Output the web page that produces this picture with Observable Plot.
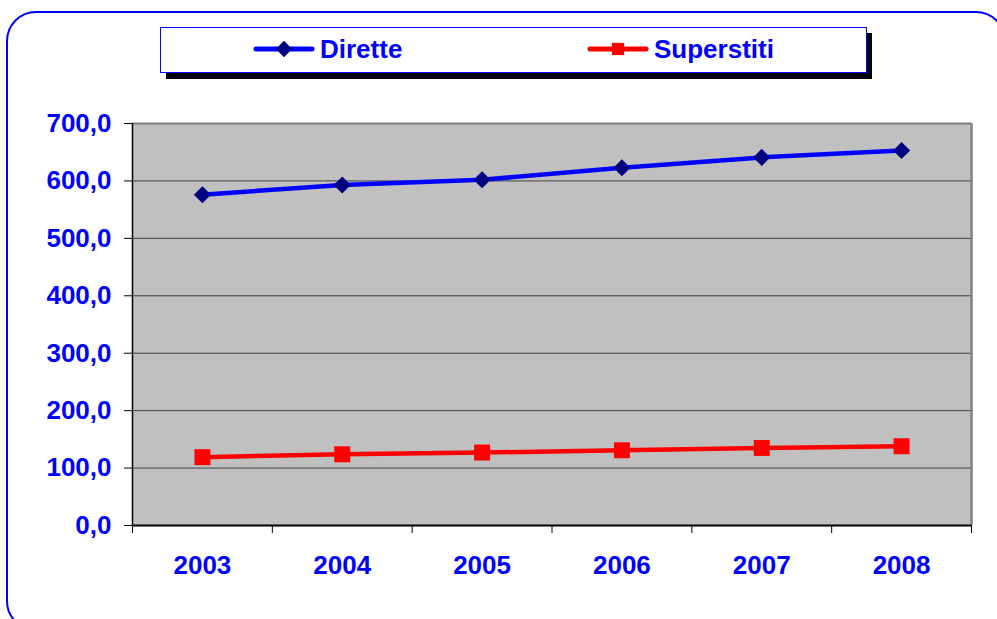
<!DOCTYPE html>
<html><head><meta charset="utf-8">
<script src="https://cdn.jsdelivr.net/npm/d3@7"></script>
<script src="https://cdn.jsdelivr.net/npm/@observablehq/plot@0.6"></script>
<style>
body{margin:0;background:#fff;}
#wrap{position:relative;width:997px;height:619px;overflow:hidden;font-family:"Liberation Sans",Arial,sans-serif;}
#border{position:absolute;left:6px;top:11px;width:1000px;height:620px;border:2px solid #0000ff;border-radius:30px;box-sizing:border-box;}
#chart{position:absolute;left:0;top:0;}
#legend{position:absolute;left:0;top:0;}
</style>
</head><body>
<div id="wrap"><div id="border"></div><div id="chart"></div><svg id="legend" width="997" height="100"></svg></div>
<script>
const years = [2003, 2004, 2005, 2006, 2007, 2008];
const seriesNames = ["Dirette", "Superstiti"];
const dirette = [576, 593, 602, 623, 641, 653];
const superstiti = [119, 124, 127, 131, 135, 138];
const yTicks = [0, 100, 200, 300, 400, 500, 600, 700];

const lineColors = ["#0000ff", "#ff0000"];
const markerColors = ["#000080", "#ff0000"];
const symbols = ["diamond2", "square"];

const rows = [];
years.forEach((yr, i) => {
  rows.push({year: yr, value: dirette[i], series: seriesNames[0]});
  rows.push({year: yr, value: superstiti[i], series: seriesNames[1]});
});
const bounds = [...years.map(y => y - 0.5), years[years.length - 1] + 0.5];
const fmt = d => d3.format(".1f")(d).replace(".", ",");
const font = {fontSize: 26, fontWeight: "bold", fontFamily: "'Liberation Sans', Arial, sans-serif"};

const plot = Plot.plot({
  width: 997, height: 619,
  marginLeft: 132, marginRight: 26, marginTop: 123, marginBottom: 94,
  style: {background: "transparent", overflow: "visible"},
  x: {type: "linear", domain: [bounds[0], bounds[bounds.length - 1]], label: null},
  y: {domain: [0, 700], label: null},
  marks: [
    Plot.frame({fill: "#c0c0c0", stroke: null}),
    Plot.ruleY(yTicks.slice(1, -1), {stroke: "#404040", strokeWidth: 1}),
    Plot.ruleY([700], {stroke: "#808080", strokeWidth: 2}),
    Plot.ruleX([bounds[bounds.length - 1]], {stroke: "#808080", strokeWidth: 2.5}),
    Plot.ruleX([bounds[0]], {stroke: "#000", strokeWidth: 1.5}),
    Plot.ruleY([0], {stroke: "#000", strokeWidth: 2}),
    Plot.axisY({ticks: yTicks, tickFormat: fmt, tickSize: 8, tickPadding: 13, stroke: "#000", fill: "#0000ff", label: null, ...font}),
    Plot.axisX({ticks: bounds, tickFormat: () => "", tickSize: 8, stroke: "#000", label: null}),
    Plot.axisX({ticks: years, tickFormat: d => String(d), tickSize: 0, tickPadding: 30, fill: "#0000ff", label: null, ...font}),
    Plot.line(rows, {x: "year", y: "value", z: "series", stroke: "series", strokeWidth: 4.5}),
    Plot.dot(rows.filter(d => d.series === seriesNames[0]), {x: "year", y: "value", symbol: () => symbols[0], r: 7.7, fill: markerColors[0], stroke: null}),
    Plot.dot(rows.filter(d => d.series === seriesNames[1]), {x: "year", y: "value", symbol: () => symbols[1], r: 9, fill: markerColors[1], stroke: null})
  ],
  color: {domain: seriesNames, range: lineColors},
  symbol: {domain: symbols, range: symbols}
});
document.getElementById("chart").appendChild(plot);

// Legend
const lg = d3.select("#legend");
lg.append("rect").attr("x", 166).attr("y", 33).attr("width", 706).attr("height", 46).attr("fill", "#000");
lg.append("rect").attr("x", 160.5).attr("y", 27.5).attr("width", 706).attr("height", 45).attr("fill", "#fff").attr("stroke", "#0000ff").attr("stroke-width", 1);
const itemX = [254, 588];
const symD3 = [d3.symbolDiamond2, d3.symbolSquare];
const symSize = [170, 150];
seriesNames.forEach((name, i) => {
  const x0 = itemX[i];
  lg.append("line").attr("x1", x0 + 2).attr("x2", x0 + 58).attr("y1", 49).attr("y2", 49)
    .attr("stroke", lineColors[i]).attr("stroke-width", 5).attr("stroke-linecap", "round");
  lg.append("path").attr("d", d3.symbol(symD3[i], symSize[i])()).attr("transform", `translate(${x0 + 30},49)`).attr("fill", markerColors[i]);
  lg.append("text").attr("x", x0 + 66).attr("y", 57.5).text(name)
    .attr("fill", "#0000ff").attr("font-size", 26).attr("font-weight", "bold")
    .attr("font-family", "'Liberation Sans', Arial, sans-serif");
});
</script>
</body></html>
